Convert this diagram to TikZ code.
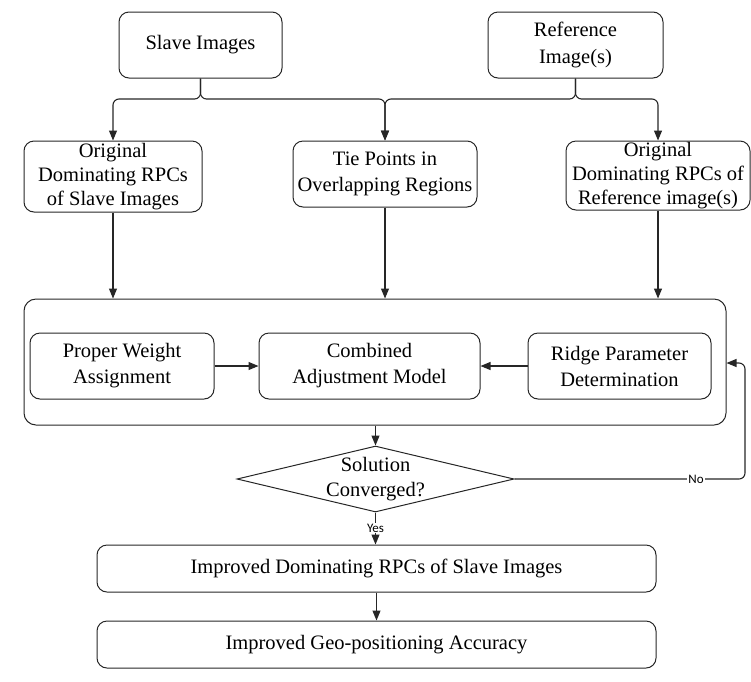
\documentclass[tikz,border=0pt]{standalone}
\usepackage{fontspec}
\setmainfont{Liberation Serif}
\newfontfamily\lblfont{Carlito}
\usetikzlibrary{shapes.geometric,arrows.meta}
\begin{document}
\begin{tikzpicture}[x=1pt,y=-1pt,
  box/.style={draw=black!85, rounded corners=10pt, line width=1pt, align=center, inner sep=0pt, font=\fontsize{20.5}{24}\selectfont, text=black},
  conn/.style={draw=black!85, line width=1.1pt, -{Triangle[length=10pt,width=8pt]}},
  lbl/.style={font=\lblfont\fontsize{13}{15}\selectfont, fill=white, inner sep=1pt, text=black}]
\useasboundingbox (0,0) rectangle (751,681);

\node[box, minimum width=163, minimum height=66] (slave) at (200.5,45) {Slave Images};
\node[box, minimum width=175, minimum height=66] (ref) at (575.5,45) {Reference\\[3pt]Image(s)};

\node[box, minimum width=178, minimum height=71] (orig1) at (113,176.5) {Original\\Dominating RPCs\\of Slave Images};
\node[box, minimum width=184, minimum height=66] (tie) at (385,174) {Tie Points in\\[2pt]Overlapping Regions};
\node[box, minimum width=184, minimum height=69] (orig2) at (658,175.5) {Original\\Dominating RPCs of\\Reference image(s)};

\node[box, rounded corners=12pt, minimum width=702, minimum height=126] (big) at (375,362) {};
\node[box, minimum width=184, minimum height=66] (pw) at (122,366) {Proper Weight\\[2pt]Assignment};
\node[box, minimum width=221, minimum height=66] (cam) at (369.5,366) {Combined\\[2pt]Adjustment Model};
\node[box, minimum width=183, minimum height=66] (rpd) at (619.5,366) {Ridge Parameter\\[2pt]Determination};

\node[draw=black!85, line width=1pt, diamond, minimum width=277, minimum height=66, inner sep=0pt] (dia) at (375.5,479) {};
\node[align=center, inner sep=0pt, font=\fontsize{20.5}{25}\selectfont] (diatext) at (dia.center) {Solution\\Converged?};

\node[box, minimum width=559, minimum height=47] (imp1) at (376.5,568.5) {Improved Dominating RPCs of Slave Images};
\node[box, minimum width=559, minimum height=47] (imp2) at (376.5,644.5) {Improved Geo-positioning Accuracy};

\coordinate (bus) at (0,99);
\draw[conn, rounded corners=6pt] (slave.south) -- (slave.south |- bus) -- (orig1.north |- bus) -- (orig1.north);
\draw[conn, rounded corners=6pt] (slave.south) -- (slave.south |- bus) -- (tie.north |- bus) -- (tie.north);
\draw[conn, rounded corners=6pt] (ref.south) -- (ref.south |- bus) -- (tie.north |- bus) -- (tie.north);
\draw[conn, rounded corners=6pt] (ref.south) -- (ref.south |- bus) -- (orig2.north |- bus) -- (orig2.north);

\draw[conn] (orig1.south) -- (orig1.south |- big.north);
\draw[conn] (tie.south) -- (tie.south |- big.north);
\draw[conn] (orig2.south) -- (orig2.south |- big.north);

\draw[conn] (pw.east) -- (cam.west);
\draw[conn] (rpd.west) -- (cam.east);

\draw[conn] (dia.north |- big.south) -- (dia.north);

\coordinate (fb) at (745,363);
\draw[conn, rounded corners=6pt] (dia.east) -| (fb) -- (big.east |- fb);
\node[lbl] (nolbl) at (696,479) {No};

\draw[conn] (dia.south) -- (dia.south |- imp1.north);
\node[lbl] (yeslbl) at (375.5,528) {Yes};

\draw[conn] (imp1.south) -- (imp2.north);
\end{tikzpicture}
\end{document}
